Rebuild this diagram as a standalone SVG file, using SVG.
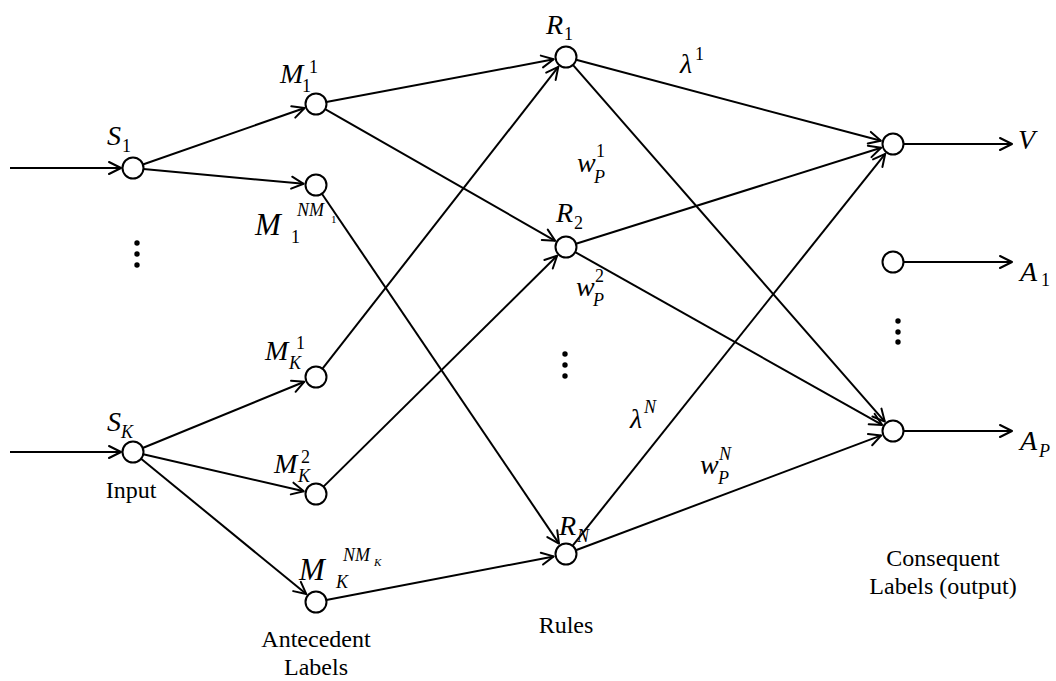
<svg xmlns="http://www.w3.org/2000/svg" width="1056" height="681" viewBox="0 0 1056 681">
<style>
.ln{stroke:#000;stroke-width:2;fill:none}
.nd{fill:#fff;stroke:#000;stroke-width:2}
text{font-family:"Liberation Serif","Times New Roman",serif;fill:#000}
.m{font-style:italic;font-size:28px}
.mb{font-style:italic;font-size:31px}
.s{font-size:18px}
.si{font-size:18px;font-style:italic}
.ss{font-size:11px;font-style:italic}
.ssn{font-size:11px}
.cap{font-size:24px}
</style>
<defs>
<marker id="ah" markerUnits="userSpaceOnUse" viewBox="-14 -8 16 16" markerWidth="16" markerHeight="16" refX="0" refY="0" orient="auto">
<path d="M-12,-6 L0,0 L-12,6" fill="none" stroke="#000" stroke-width="2" stroke-linecap="round" stroke-linejoin="round"/>
</marker>
</defs>
<rect width="1056" height="681" fill="#fff"/>
<g id="connectors" class="ln" marker-end="url(#ah)">
<line x1="10" y1="168" x2="121" y2="168"/>
<line x1="10" y1="452" x2="121" y2="452"/>
<line x1="142.9" y1="164.5" x2="304.6" y2="108"/>
<line x1="143.5" y1="169" x2="303.6" y2="183.8"/>
<line x1="142.7" y1="448" x2="304.4" y2="381.7"/>
<line x1="143.2" y1="454.3" x2="303.8" y2="491.2"/>
<line x1="141.1" y1="458.7" x2="306.3" y2="594.1"/>
<line x1="326.3" y1="102.1" x2="553.7" y2="59.3"/>
<line x1="325.1" y1="109.2" x2="555.2" y2="240.8"/>
<line x1="321.9" y1="193.7" x2="559" y2="543.6"/>
<line x1="322.5" y1="368.7" x2="558.3" y2="66.9"/>
<line x1="323.5" y1="486.6" x2="557.1" y2="255.8"/>
<line x1="326.3" y1="600" x2="553.7" y2="556.4"/>
<line x1="576.1" y1="59.7" x2="880.9" y2="140.8"/>
<line x1="572.9" y1="64.9" x2="884.8" y2="421.6"/>
<line x1="576" y1="243.8" x2="881.1" y2="147.8"/>
<line x1="575.2" y1="252.1" x2="882.1" y2="424.9"/>
<line x1="572.5" y1="545.8" x2="885.2" y2="153.8"/>
<line x1="575.8" y1="550.3" x2="881.3" y2="435.4"/>
<line x1="903.5" y1="144" x2="1012" y2="144"/>
<line x1="903.5" y1="262" x2="1012" y2="262"/>
<line x1="903.5" y1="431" x2="1012" y2="431"/>
</g>
<g id="S1"><circle class="nd" cx="133" cy="168" r="10.5"/><text class="m" x="107" y="145">S</text><text class="s" x="122" y="152">1</text></g>
<g id="SK"><circle class="nd" cx="133" cy="452" r="10.5"/><text class="m" x="107" y="431">S</text><text class="si" x="121" y="438">K</text></g>
<g id="M11"><circle class="nd" cx="316" cy="104" r="10.5"/><text class="m" x="280" y="83">M</text><text class="s" x="302" y="92">1</text><text class="s" x="309" y="73">1</text></g>
<g id="M1NM1"><circle class="nd" cx="316" cy="185" r="10.5"/><text class="mb" x="255" y="235">M</text><text class="s" x="291" y="243">1</text><text class="si" x="297" y="216">NM</text><text class="ssn" x="331" y="223">1</text></g>
<g id="MK1"><circle class="nd" cx="316" cy="377" r="10.5"/><text class="m" x="265" y="360">M</text><text class="si" x="289" y="369">K</text><text class="s" x="296" y="349">1</text></g>
<g id="MK2"><circle class="nd" cx="316" cy="494" r="10.5"/><text class="m" x="274" y="473">M</text><text class="si" x="298" y="482">K</text><text class="s" x="301" y="463">2</text></g>
<g id="MKNMK"><circle class="nd" cx="316" cy="602" r="10.5"/><text class="mb" x="299" y="580">M</text><text class="si" x="336" y="588">K</text><text class="si" x="343" y="561">NM</text><text class="ss" x="374" y="566">K</text></g>
<g id="R1"><circle class="nd" cx="566" cy="57" r="10.5"/><text class="m" x="546" y="34">R</text><text class="s" x="564" y="40">1</text></g>
<g id="R2"><circle class="nd" cx="566" cy="247" r="10.5"/><text class="m" x="556" y="222">R</text><text class="s" x="574" y="229">2</text></g>
<g id="RN"><circle class="nd" cx="566" cy="554" r="10.5"/><text class="m" x="559" y="535">R</text><text class="si" x="577" y="542">N</text></g>
<g id="OutV"><circle class="nd" cx="893" cy="144" r="10.5"/><text class="m" x="1018" y="149">V</text></g>
<g id="OutA1"><circle class="nd" cx="893" cy="262" r="10.5"/><text class="m" x="1020" y="281">A</text><text class="s" x="1041" y="286">1</text></g>
<g id="OutAP"><circle class="nd" cx="893" cy="431" r="10.5"/><text class="m" x="1020" y="450">A</text><text class="si" x="1039" y="457">P</text></g>
<g id="weights">
<text class="m" x="680" y="73">λ</text><text class="s" x="695" y="60">1</text>
<text class="m" x="630" y="428">λ</text><text class="si" x="644" y="413">N</text>
<text class="m" x="577" y="172">w</text><text class="s" x="596" y="157">1</text><text class="si" x="594" y="183">P</text>
<text class="m" x="576" y="296">w</text><text class="s" x="595" y="282">2</text><text class="si" x="593" y="306">P</text>
<text class="m" x="700" y="474">w</text><text class="si" x="719" y="460">N</text><text class="si" x="718" y="484">P</text>
</g>
<g id="dots" fill="#000">
<circle cx="137" cy="243" r="2.7"/><circle cx="137" cy="254" r="2.7"/><circle cx="137" cy="265" r="2.7"/>
<circle cx="565" cy="354" r="2.7"/><circle cx="565" cy="365" r="2.7"/><circle cx="565" cy="376" r="2.7"/>
<circle cx="898" cy="321" r="2.7"/><circle cx="898" cy="332" r="2.7"/><circle cx="898" cy="342" r="2.7"/>
</g>
<g id="captions" class="cap" text-anchor="middle">
<text x="131" y="498">Input</text>
<text x="316" y="647">Antecedent</text>
<text x="316" y="675">Labels</text>
<text x="566" y="633">Rules</text>
<text x="943" y="566">Consequent</text>
<text x="943" y="594">Labels (output)</text>
</g>
</svg>
